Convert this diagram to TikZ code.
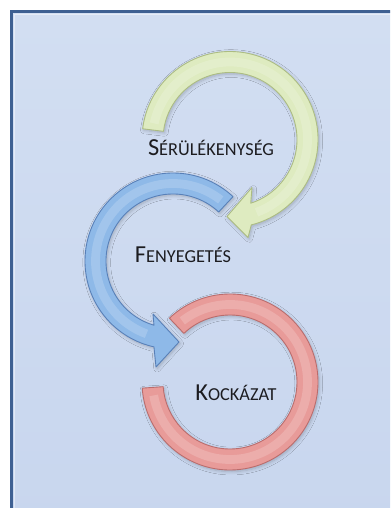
\documentclass[tikz,border=0pt]{standalone}
\usepackage{fontspec}
\setmainfont{Carlito}
\usepackage{tikz}
\usetikzlibrary{shadows.blur}
\definecolor{FrameBlue}{RGB}{62, 96, 146}
\definecolor{BgTop}{RGB}{210, 222, 242}
\definecolor{BgBottom}{RGB}{200, 214, 238}
\definecolor{SoftGreen}{RGB}{222, 235, 192}
\definecolor{EdgeGreen}{RGB}{172, 188, 130}
\definecolor{SoftBlue}{RGB}{142, 185, 232}
\definecolor{EdgeBlue}{RGB}{88, 128, 184}
\definecolor{SoftRed}{RGB}{232, 155, 153}
\definecolor{EdgeRed}{RGB}{186, 108, 108}
\definecolor{InkGray}{RGB}{28, 28, 32}
\newcommand{\capsword}[2]{{\fontsize{13.9}{15}\selectfont #1}{\fontsize{10.4}{12}\selectfont #2}}
\tikzset{
  ring/.style={line width=0.5pt, line join=round,
    blur shadow={shadow xshift=0.7pt, shadow yshift=-0.9pt,
      shadow opacity=22, shadow blur steps=6}},
  greenring/.style={ring, fill=SoftGreen, draw=EdgeGreen},
  bluering/.style={ring, fill=SoftBlue, draw=EdgeBlue},
  redring/.style={ring, fill=SoftRed, draw=EdgeRed},
  gloss/.style={white, opacity=0.18, line width=5pt},
  label/.style={anchor=base, text=InkGray, inner sep=0pt},
}

\begin{document}
\begin{tikzpicture}[x=0.02cm, y=0.02cm]
  \useasboundingbox (0,0) rectangle (390,508);
  \clip (0,0) rectangle (390,508);
  % panel
  \fill[white] (0,0) rectangle (390,508);
  \shade[top color=BgTop, bottom color=BgBottom] (11.5,-20) rectangle (420,496.5);
  \draw[FrameBlue, line width=1.7pt] (11.5,-20) -- (11.5,496.5) -- (420,496.5);
  \draw[white, opacity=0.45, line width=0.5pt] (14.5,-20) -- (14.5,493.5) -- (420,493.5);

  \coordinate (gc) at (230,368.5);
  \coordinate (bc) at (173,247);
  \coordinate (rc) at (230,126);

  % red ring (back)
  \path[redring, shift={(rc)}] (184:88) arc[start angle=184, end angle=493.5, radius=88]
    -- (493.5:67) arc[start angle=493.5, end angle=184, radius=67] -- cycle;
  \draw[gloss, shift={(rc)}] (190:77.5) arc[start angle=190, end angle=488, radius=77.5];

  % blue arrow
  \path[bluering, shift={(bc)}] (47:88) arc[start angle=47, end angle=257.5, radius=88]
    -- (-17,-106) -- (6,-81) -- (-20,-53)
    -- (253.5:67) arc[start angle=253.5, end angle=47, radius=67] -- cycle;
  \draw[gloss, shift={(bc)}] (52:77.5) arc[start angle=52, end angle=250, radius=77.5];

  % green arrow
  \path[greenring, shift={(gc)}] (173:88) arc[start angle=173, end angle=-76, radius=88]
    -- (18,-98) -- (-3,-77) -- (22,-48)
    -- (-72:67) arc[start angle=-72, end angle=173, radius=67] -- cycle;
  \draw[gloss, shift={(gc)}] (168:77.5) arc[start angle=168, end angle=-70, radius=77.5];

  % labels
  \node[label] (serul) at (211,352.3) {\capsword{S}{ÉRÜLÉKENYSÉG}};
  \node[label] (fenye) at (183,245) {\capsword{F}{ENYEGETÉS}};
  \node[label] (kocka) at (236,107.3) {\capsword{K}{OCKÁZAT}};
\end{tikzpicture}
\end{document}
